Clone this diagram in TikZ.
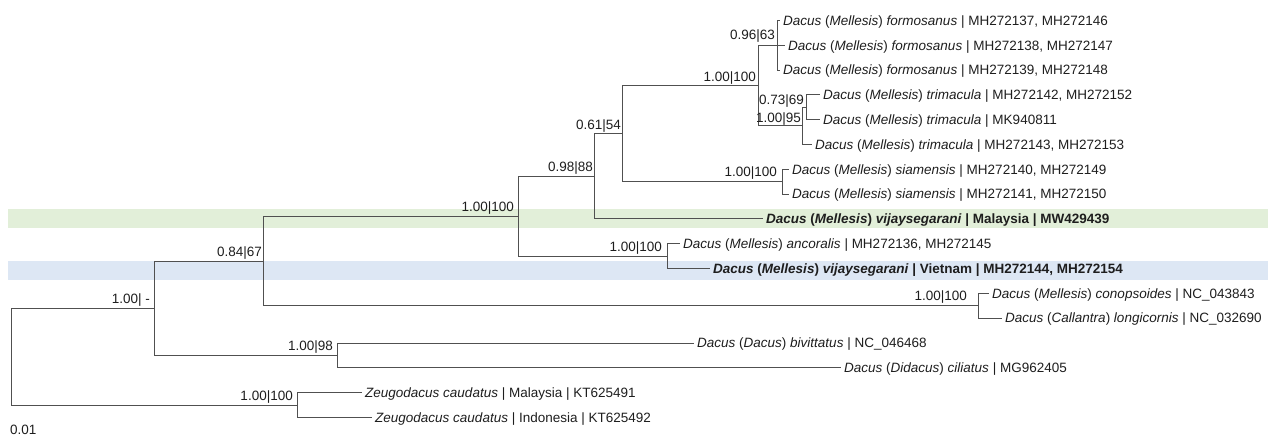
\documentclass[tikz,border=0pt]{standalone}
\usepackage{fontspec}
\setmainfont{Liberation Sans}
\definecolor{linec}{HTML}{505050}
\definecolor{textc}{HTML}{1E1E1E}
\definecolor{bandgreen}{HTML}{E2EFD9}
\definecolor{bandblue}{HTML}{DDE7F4}
\newcommand{\Dg}[2]{\textit{Dacus} (\textit{#1}) \textit{#2}}
\tikzset{
  tip/.style={anchor=west,inner sep=0pt,text height=9.7pt,text depth=0pt,text=textc,font=\fontsize{13.5}{16}\selectfont},
  supp/.style={anchor=base east,inner sep=0pt,text=textc,font=\fontsize{13.5}{16}\selectfont},
  branch/.style={draw=linec,line width=0.8pt},
  band/.style={draw=none}
}
\begin{document}
\begin{tikzpicture}[x=1pt,y=-1pt]
\useasboundingbox (0,0) rectangle (1268,435);
% highlight bands
\fill[bandgreen] (8,209) rectangle (1268,228);
\fill[bandblue] (8,261) rectangle (1268,280);
% tips
\node[tip] (t1) at (783,20.5) {\Dg{Mellesis}{formosanus} | MH272137, MH272146};
\node[tip] (t2) at (788,45.3) {\Dg{Mellesis}{formosanus} | MH272138, MH272147};
\node[tip] (t3) at (783,70.1) {\Dg{Mellesis}{formosanus} | MH272139, MH272148};
\node[tip] (t4) at (823,94.9) {\Dg{Mellesis}{trimacula} | MH272142, MH272152};
\node[tip] (t5) at (823,119.7) {\Dg{Mellesis}{trimacula} | MK940811};
\node[tip] (t6) at (815,144.5) {\Dg{Mellesis}{trimacula} | MH272143, MH272153};
\node[tip] (t7) at (792,169.3) {\Dg{Mellesis}{siamensis} | MH272140, MH272149};
\node[tip] (t8) at (792,194.1) {\Dg{Mellesis}{siamensis} | MH272141, MH272150};
\node[tip] (t9) at (766,218.9) {\bfseries\Dg{Mellesis}{vijaysegarani} | Malaysia | MW429439};
\node[tip] (t10) at (683,243.7) {\Dg{Mellesis}{ancoralis} | MH272136, MH272145};
\node[tip] (t11) at (713,268.5) {\bfseries\Dg{Mellesis}{vijaysegarani} | Vietnam | MH272144, MH272154};
\node[tip] (t12) at (992,293.3) {\Dg{Mellesis}{conopsoides} | NC\_043843};
\node[tip] (t13) at (1005,318.1) {\Dg{Callantra}{longicornis} | NC\_032690};
\node[tip] (t14) at (697,342.9) {\Dg{Dacus}{bivittatus} | NC\_046468};
\node[tip] (t15) at (844,367.7) {\Dg{Didacus}{ciliatus} | MG962405};
\node[tip] (t16) at (365,392.5) {\textit{Zeugodacus caudatus} | Malaysia | KT625491};
\node[tip] (t17) at (375,417.3) {\textit{Zeugodacus caudatus} | Indonesia | KT625492};
% internal nodes
\coordinate (Fo) at (777,45.3);
\coordinate (T2) at (806,107.3);
\coordinate (T) at (802,125.9);
\coordinate (F) at (758,85.6);
\coordinate (S) at (782,181.7);
\coordinate (E) at (622,133.65);
\coordinate (D) at (594,176.3);
\coordinate (Anc) at (667,256.1);
\coordinate (C) at (518,216.2);
\coordinate (Con) at (978,305.7);
\coordinate (B) at (263,260.95);
\coordinate (Biv) at (337,355.3);
\coordinate (A) at (154,308.1);
\coordinate (Z) at (297,404.9);
\coordinate (R) at (11,356.5);
% branches
\path[branch]
  (R) |- (A)  (R) |- (Z)
  (A) |- (B)  (A) |- (Biv)
  (B) |- (C)  (B) |- (Con)
  (C) |- (D)  (C) |- (Anc)
  (D) |- (E)  (D) |- ([xshift=-3pt]t9.west)
  (E) |- (F)  (E) |- (S)
  (F) |- (Fo) (F) |- (T)
  (Fo) |- ([xshift=-3pt]t1.west) (Fo) |- ([xshift=-3pt]t2.west) (Fo) |- ([xshift=-3pt]t3.west)
  (T) |- (T2) (T) |- ([xshift=-3pt]t6.west)
  (T2) |- ([xshift=-3pt]t4.west) (T2) |- ([xshift=-3pt]t5.west)
  (S) |- ([xshift=-3pt]t7.west) (S) |- ([xshift=-3pt]t8.west)
  (Anc) |- ([xshift=-3pt]t10.west) (Anc) |- ([xshift=-3pt]t11.west)
  (Con) |- ([xshift=-3pt]t12.west) (Con) |- ([xshift=-3pt]t13.west)
  (Biv) |- ([xshift=-3pt]t14.west) (Biv) |- ([xshift=-3pt]t15.west)
  (Z) |- ([xshift=-3pt]t16.west) (Z) |- ([xshift=-3pt]t17.west);
% support values
\node[supp] (lA) at (150,304) {1.00| -};
\node[supp] (lB) at (262,257) {0.84|67};
\node[supp] (lC) at (514,211.5) {1.00|100};
\node[supp] (lD) at (593,171.5) {0.98|88};
\node[supp] (lE) at (621,129.5) {0.61|54};
\node[supp] (lF) at (756,81.5) {1.00|100};
\node[supp] (lFo) at (775,40) {0.96|63};
\node[supp] (lT) at (801,122.5) {1.00|95};
\node[supp] (lT2) at (804,104.5) {0.73|69};
\node[supp] (lS) at (777,177) {1.00|100};
\node[supp] (lAnc) at (662,252) {1.00|100};
\node[supp] (lCon) at (967,301) {1.00|100};
\node[supp] (lZ) at (293,400) {1.00|100};
\node[supp] (lBiv) at (333,350) {1.00|98};
% scale
\node[anchor=base west,inner sep=0pt,text=textc,font=\fontsize{13.5}{16}\selectfont] (scale) at (10,434) {0.01};
\end{tikzpicture}
\end{document}
